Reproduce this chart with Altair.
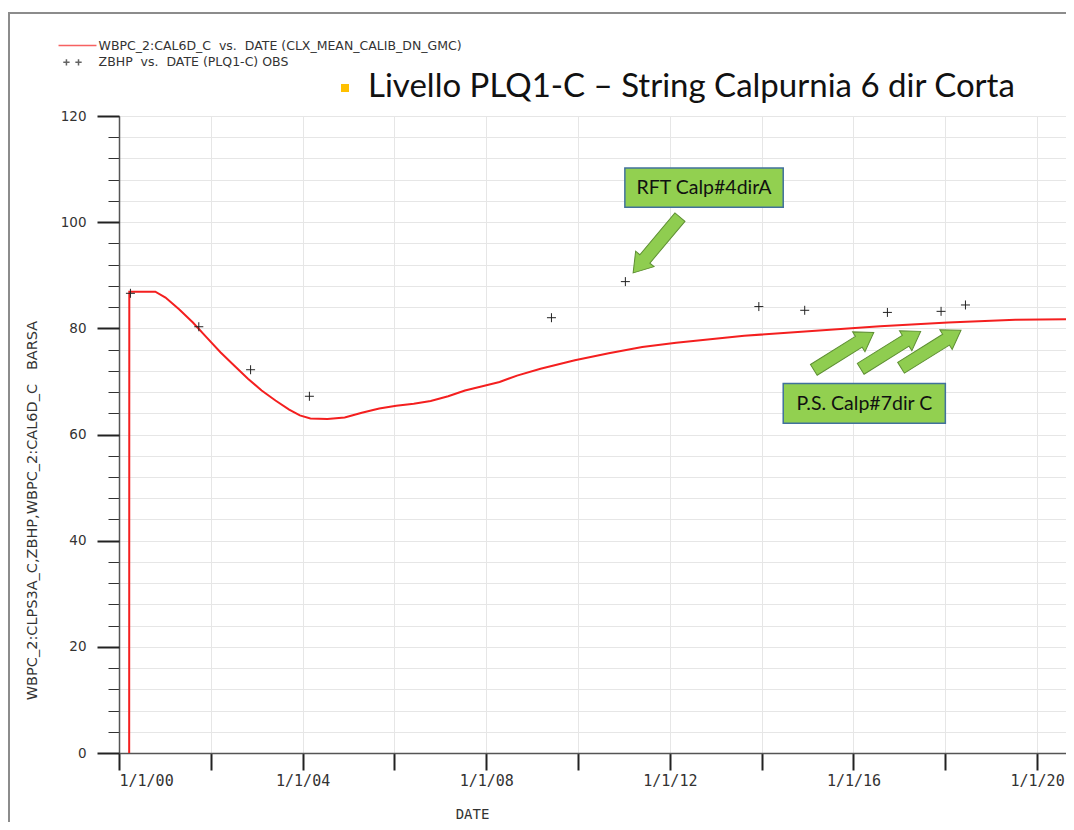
import altair as alt
import pandas as pd

# simulated pressure WBPC_2:CAL6D_C (red line)
sim_dates = [
    "2000-03-22", "2000-03-23", "2000-10-16", "2001-01-05", "2001-04-23",
    "2001-08-11", "2001-11-28", "2002-03-18", "2002-07-05", "2002-10-23",
    "2003-02-09", "2003-05-30", "2003-09-16", "2003-12-10", "2004-03-03",
    "2004-07-16", "2004-12-01", "2005-04-16", "2005-09-02", "2006-01-15",
    "2006-06-03", "2006-10-16", "2007-03-04", "2007-07-16", "2007-12-01",
    "2008-04-16", "2008-09-02", "2009-03-08", "2009-12-06", "2010-09-02",
    "2011-05-26", "2012-02-20", "2013-08-15", "2015-02-06", "2016-07-31",
    "2018-01-23", "2019-07-13", "2020-10-12",
]
sim_values = [
    0.0, 86.9, 86.9, 85.8, 83.6,
    81.1, 78.3, 75.5, 73.0, 70.5,
    68.3, 66.4, 64.7, 63.6, 63.0,
    62.9, 63.2, 64.1, 64.9, 65.4,
    65.8, 66.3, 67.2, 68.3, 69.1,
    69.9, 71.1, 72.4, 74.0, 75.3,
    76.5, 77.3, 78.6, 79.5, 80.4,
    81.1, 81.6, 81.7,
]

# observed ZBHP (+ markers)
obs_dates = [
    "2000-04-01", "2001-09-27", "2002-11-13", "2004-02-24", "2009-06-03",
    "2011-01-12", "2013-12-09", "2014-12-09", "2016-09-27", "2017-11-28",
    "2018-06-10",
]
obs_values = [86.6, 80.3, 72.2, 67.2, 82.0, 88.8, 84.1, 83.4, 83.0, 83.2, 84.4]

# legend labels (non-breaking spaces keep the wide gaps around "vs.")
series_names = [
    "WBPC_2:CAL6D_C\u00a0\u00a0vs.\u00a0\u00a0DATE (CLX_MEAN_CALIB_DN_GMC)",
    "ZBHP\u00a0\u00a0vs.\u00a0\u00a0DATE (PLQ1-C) OBS",
]

# green callout boxes
box_labels = ["RFT Calp#4dirA", "P.S. Calp#7dir C"]
box_start = ["2011-01-08", "2014-06-21"]
box_end = ["2014-06-21", "2018-01-01"]
box_low = [102.8, 62.1]
box_high = [110.2, 69.6]
box_mid_date = ["2012-09-29", "2016-03-28"]
box_mid_value = [106.4, 65.75]

# block arrows (centre of each arrow)
arrow_down_dates = ["2011-09-17"]
arrow_down_values = [95.7]
arrow_up_dates = ["2015-10-16", "2016-10-23", "2017-09-09"]
arrow_up_values = [75.7, 75.9, 76.1]

x_tick_years = [2000, 2002, 2004, 2006, 2008, 2010, 2012, 2014, 2016, 2018, 2020]
y_major_ticks = [0, 20, 40, 60, 80, 100, 120]
y_minor_ticks = list(range(0, 121, 4))

title_text = "Livello PLQ1-C \u2013 String Calpurnia 6 dir Corta"
y_title = "WBPC_2:CLPS3A_C,ZBHP,WBPC_2:CAL6D_C\u00a0\u00a0\u00a0BARSA"

sim = pd.DataFrame({"date": sim_dates, "value": sim_values})
obs = pd.DataFrame({"date": obs_dates, "value": obs_values})
legend_df = pd.DataFrame({"series": series_names, "date": ["2000-01-01"] * 2, "value": [-50, -50]})
boxes = pd.DataFrame({
    "label": box_labels, "x0": box_start, "x1": box_end,
    "y0": box_low, "y1": box_high, "xm": box_mid_date, "ym": box_mid_value,
})
arrows_down = pd.DataFrame({"date": arrow_down_dates, "value": arrow_down_values})
arrows_up = pd.DataFrame({"date": arrow_up_dates, "value": arrow_up_values})
one_row = pd.DataFrame({"k": [0]})

# custom symbol paths
plus_path = "M-1,0L1,0M0,-1L0,1"
arrow_path = "M-1,-0.18L0.5,-0.18L0.5,-0.33L1,0L0.5,0.33L0.5,0.18L-1,0.18Z"
legend_line_path = "M-3,0L3,0"
legend_plus_path = "M-2.25,0L-1.25,0M-1.75,-0.5L-1.75,0.5M-0.34,0L0.66,0M0.16,-0.5L0.16,0.5"

W, H = 947, 637

x_scale = alt.Scale(
    type="utc",
    domain=[alt.DateTime(year=2000, month=1, date=1, utc=True),
            alt.DateTime(year=2020, month=8, date=18, utc=True)],
    nice=False,
)
y_scale = alt.Scale(domain=[0, 120], nice=False, zero=False)

x_axis = alt.Axis(
    values=[alt.DateTime(year=y, month=1, date=1, utc=True) for y in x_tick_years],
    labelExpr="utcyear(datum.value) % 4 == 0 ? utcFormat(datum.value, '%-m/%-d/%y') : ''",
    labelFont="DejaVu Sans Mono", labelFontSize=15, labelColor="#333",
    labelPadding=3, labelFlush=True, labelOverlap=False, labelBound=False,
    tickSize=17, tickWidth=2, tickColor="#222",
    domainColor="#555", domainWidth=1.5,
    grid=True, gridColor="#e6e6e6", gridWidth=1,
    title="DATE", titleFont="DejaVu Sans Mono", titleFontSize=14,
    titleFontWeight="normal", titleColor="#333",
    titleX=353, titleY=61, titleAlign="center", titleBaseline="middle",
)

y_minor_axis = alt.Axis(
    orient="left", values=y_minor_ticks, labels=False,
    tickSize=11, tickWidth=1, tickColor="#333",
    domainColor="#555", domainWidth=1.5,
    grid=True, gridColor="#e6e6e6", gridWidth=1, title=None,
)

y_major_axis = alt.Axis(
    orient="left", values=y_major_ticks, domain=False, grid=False,
    tickSize=22, tickWidth=2, tickColor="#222",
    labelFont="DejaVu Sans", labelFontSize=13.5, labelColor="#333", labelPadding=11,
    title=y_title, titleFont="DejaVu Sans", titleFontSize=14.5,
    titleFontWeight="normal", titleColor="#333",
    titleX=-87, titleY=394, titleAngle=270, titleAlign="center", titleBaseline="middle",
)

# only the line layer carries the x axis; the other layers leave it implicit
line = alt.Chart(sim).mark_line(color="#f41f1f", strokeWidth=2, clip=True).encode(
    x=alt.X("date:T", scale=x_scale, axis=x_axis),
    y=alt.Y("value:Q", scale=y_scale, axis=y_minor_axis),
)

points = alt.Chart(obs).mark_point(
    shape=plus_path, size=81, filled=False, color="#222", strokeWidth=1, opacity=1
).encode(
    x=alt.X("date:T", scale=x_scale),
    y=alt.Y("value:Q", scale=y_scale, axis=y_major_axis),
)

legend = alt.Legend(
    orient="none", legendX=-49, legendY=-78, title=None, padding=0,
    labelFont="DejaVu Sans", labelFontSize=12.5, labelColor="#333", labelLimit=600,
    symbolSize=160, symbolStrokeWidth=1.5, labelOffset=13.6, rowPadding=2.8,
)

legend_layer = alt.Chart(legend_df).mark_point(filled=False, clip=True, strokeWidth=1.5).encode(
    x=alt.X("date:T", scale=x_scale),
    y=alt.Y("value:Q", scale=y_scale, axis=None),
    color=alt.Color("series:N", scale=alt.Scale(domain=series_names, range=["#f41f1f", "#222"]), legend=legend),
    shape=alt.Shape("series:N", scale=alt.Scale(domain=series_names, range=[legend_line_path, legend_plus_path]), legend=legend),
)

arrow_down = alt.Chart(arrows_down).mark_point(
    shape=arrow_path, size=5300, angle=130, filled=True,
    fill="#8fcd50", stroke="#5e8f33", strokeWidth=1, opacity=1,
).encode(
    x=alt.X("date:T", scale=x_scale),
    y=alt.Y("value:Q", scale=y_scale, axis=None),
)

arrow_up = alt.Chart(arrows_up).mark_point(
    shape=arrow_path, size=5000, angle=328, filled=True,
    fill="#8fcd50", stroke="#5e8f33", strokeWidth=1, opacity=1,
).encode(
    x=alt.X("date:T", scale=x_scale),
    y=alt.Y("value:Q", scale=y_scale, axis=None),
)

box_rects = alt.Chart(boxes).mark_rect(fill="#92d050", stroke="#41719c", strokeWidth=1.5).encode(
    x=alt.X("x0:T", scale=x_scale), x2="x1:T",
    y=alt.Y("y0:Q", scale=y_scale, axis=None), y2="y1:Q",
)

box_text = alt.Chart(boxes).mark_text(font="Lato", fontSize=19.5, color="#111").encode(
    x=alt.X("xm:T", scale=x_scale),
    y=alt.Y("ym:Q", scale=y_scale, axis=None),
    text="label:N",
)

# yellow bullet before the title and the slide frame
bullet = alt.Chart(one_row).mark_square(color="#ffc000", size=64, opacity=1).encode(
    x=alt.value(226), y=alt.value(-28),
)
frame_left = alt.Chart(one_row).mark_rule(color="#8c8c8c", strokeWidth=2).encode(
    x=alt.value(-110), y=alt.value(-103), y2=alt.value(H + 69),
)
frame_top = alt.Chart(one_row).mark_rule(color="#8c8c8c", strokeWidth=2).encode(
    x=alt.value(-111), x2=alt.value(W), y=alt.value(-103),
)

chart = alt.layer(
    line, points, legend_layer, arrow_down, arrow_up, box_rects, box_text,
    bullet, frame_left, frame_top,
).resolve_scale(y="shared").resolve_axis(y="independent").properties(
    width=W, height=H,
    autosize=alt.AutoSizeParams(type="none"),
    padding={"left": 111, "top": 108, "right": 0, "bottom": 69},
    title=alt.Title(
        title_text, anchor="start", frame="group", dx=249, offset=0, dy=118,
        baseline="alphabetic",
        font="Lato", fontSize=33, fontWeight="normal", color="#111",
    ),
).configure_view(strokeWidth=0)

chart.save("out.html", embed_options={"renderer": "svg", "actions": False})
